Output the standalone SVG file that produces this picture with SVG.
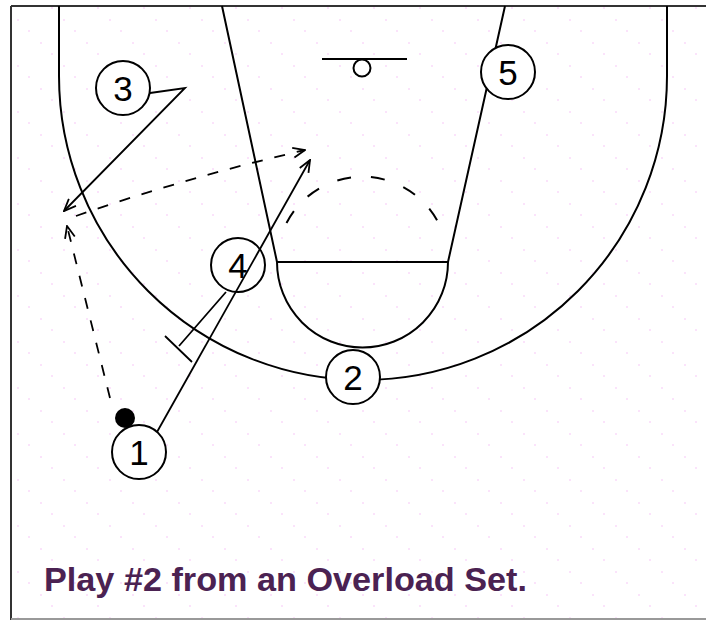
<svg xmlns="http://www.w3.org/2000/svg" width="706" height="622" viewBox="0 0 706 622">
<style>
.court{fill:none;stroke:#000;stroke-width:2}
.frame{fill:none;stroke:#333;stroke-width:2}
.mv{fill:none;stroke:#000;stroke-width:1.8}
.pass{fill:none;stroke:#000;stroke-width:1.8;stroke-dasharray:11 12}
.ftd{fill:none;stroke:#000;stroke-width:2;stroke-dasharray:14 20}
.pl circle{fill:#fff;stroke:#000;stroke-width:2}
.pl text{font-family:"Liberation Sans",Arial,sans-serif;font-size:35px;text-anchor:middle;fill:#000}
.title{font-family:"Liberation Sans",Arial,sans-serif;font-weight:bold;font-size:33px;fill:#4b2252}
</style>
<defs>
<marker id="arr" viewBox="0 0 14 12" refX="13" refY="6" markerWidth="14" markerHeight="12" markerUnits="userSpaceOnUse" orient="auto">
<path d="M1,1 L13,6 L1,11" fill="none" stroke="#000" stroke-width="1.8"/>
</marker>
<pattern id="dots" width="46" height="46" patternUnits="userSpaceOnUse">
<rect x="5" y="7" width="2" height="2" fill="#fbe3fb"/>
<rect x="28" y="30" width="2" height="2" fill="#fbe3fb"/>
<rect x="17" y="19" width="2" height="2" fill="#fbe3fb"/>
<rect x="40" y="42" width="2" height="2" fill="#fbe3fb"/>
</pattern>
</defs>
<rect width="706" height="622" fill="#fff"/>
<rect x="12" y="7" width="694" height="612" fill="url(#dots)"/>
<g id="frame">
<path class="frame" d="M11,6 H706 M11,6 V620"/>
<path d="M11,619 H706" stroke="#999" stroke-width="2" fill="none"/>
</g>
<g id="court">
<path class="court" d="M59,6 V76 A304,304 0 0 0 667,76 V6"/>
<path class="court" d="M222,6 L277,262 M505,6 L448,262 M277,262 H448"/>
<path class="court" d="M277,262 A85.5,85.5 0 0 0 448,262"/>
<path class="ftd" d="M286.5,223 A85.5,85.5 0 0 1 438.5,223"/>
<path class="court" d="M322,59 H407"/>
<circle cx="362" cy="68" r="8.5" fill="#fff" stroke="#000" stroke-width="2"/>
</g>
<g id="player-3" class="pl"><circle cx="123" cy="88" r="27"/><text x="123" y="101">3</text></g>
<g id="player-5" class="pl"><circle cx="508" cy="72" r="27"/><text x="508" y="85">5</text></g>
<g id="player-4" class="pl"><circle cx="238" cy="265" r="27"/><text x="238" y="278">4</text></g>
<g id="player-2" class="pl"><circle cx="353" cy="377" r="27"/><text x="353" y="390">2</text></g>
<g id="player-1" class="pl"><circle cx="139" cy="452" r="27"/><text x="139" y="465">1</text></g>
<g id="ball"><circle cx="125" cy="418" r="10" fill="#000"/></g>
<g id="connectors">
<path class="mv" d="M150,93 L185,88 L64,211" marker-end="url(#arr)"/>
<path class="mv" d="M157,432 L310,160" marker-end="url(#arr)"/>
<path class="pass" d="M110,398 L67,226" marker-end="url(#arr)"/>
<path class="pass" d="M76,216 Q185,178 305,150" marker-end="url(#arr)"/>
<path class="mv" d="M226,292 L179,346 M165,336 L192,362"/>
</g>
<text class="title" x="44" y="591" textLength="483" lengthAdjust="spacingAndGlyphs">Play #2 from an Overload Set.</text>
</svg>
